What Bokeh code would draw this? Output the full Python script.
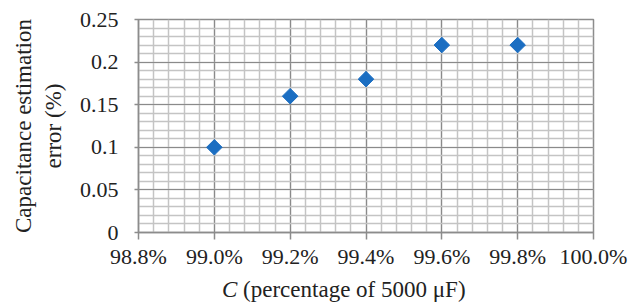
import math
from bokeh.plotting import figure
from bokeh.models import (SingleIntervalTicker, NumeralTickFormatter, Range1d, Div)
from bokeh.layouts import column
from bokeh.embed import file_html
from bokeh.resources import INLINE

# data
c_percent = [0.990, 0.992, 0.994, 0.996, 0.998]   # fraction of 5000 uF
est_error = [0.10, 0.16, 0.18, 0.22, 0.22]          # %
x_title_italic = "C"
x_title_rest = "(percentage of 5000 μF)"
y_title = "Capacitance estimation\nerror (%)"

FONT = "Liberation Serif"
FS = "22px"

p = figure(width=631, height=278, output_backend="svg", toolbar_location=None,
           x_range=Range1d(0.988, 1.000), y_range=Range1d(0, 0.25),
           min_border_left=138, min_border_right=38, min_border_top=19,
           min_border_bottom=46)
p.background_fill_color = "white"
p.border_fill_color = "white"
p.outline_line_color = "#8c8c8c"
p.outline_line_width = 1.5

p.xaxis.ticker = SingleIntervalTicker(interval=0.002, num_minor_ticks=5)
p.yaxis.ticker = SingleIntervalTicker(interval=0.05, num_minor_ticks=5)
p.xaxis.formatter = NumeralTickFormatter(format="0.0%")
p.yaxis.formatter = NumeralTickFormatter(format="0.[00]")

for ax in (p.xaxis[0], p.yaxis[0]):
    ax.axis_line_color = "#8c8c8c"
    ax.axis_line_width = 1.5
    ax.major_tick_line_color = "#8c8c8c"
    ax.major_tick_line_width = 1.5
    ax.minor_tick_line_color = None
    ax.major_label_text_font = FONT
    ax.major_label_text_font_size = FS
    ax.major_label_text_color = "#222222"
    ax.axis_label_text_font = FONT
    ax.axis_label_text_font_size = "23px"
    ax.axis_label_text_font_style = "normal"
    ax.axis_label_text_color = "#222222"

p.xaxis.major_tick_out = 7
p.xaxis.major_tick_in = 0
p.yaxis.major_tick_out = 4
p.yaxis.major_tick_in = 0
p.xaxis.major_label_standoff = 4
p.yaxis.major_label_standoff = 16

p.yaxis.axis_label = y_title
p.yaxis.axis_label_standoff = 11

for g in (p.xgrid[0], p.ygrid[0]):
    g.grid_line_color = "#8a8a8a"
    g.grid_line_width = 1.2
    g.minor_grid_line_color = "#c4c4c4"
    g.minor_grid_line_width = 1.5

p.scatter(x=c_percent, y=est_error, marker="square", size=11, angle=math.pi / 4,
          fill_color="#1b6ec2", line_color="#1b6ec2")

# x-axis title (italic C) as an HTML block under the plot
xlab = Div(text=f"<i>{x_title_italic}</i> {x_title_rest}", width=631, height=24,
           margin=(0, 0, 0, 0),
           styles={"font-family": FONT, "font-size": "23px", "color": "#222222",
                   "padding-left": "222px", "line-height": "24px",
                   "white-space": "nowrap"})

layout = column(p, xlab, spacing=0)
open("out.html", "w").write(file_html(layout, INLINE))
